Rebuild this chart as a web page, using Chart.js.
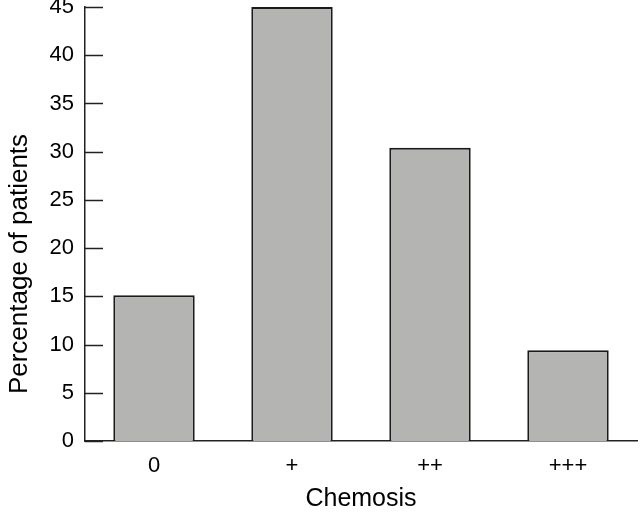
<!DOCTYPE html>
<html>
<head>
<meta charset="utf-8">
<script src="https://cdn.jsdelivr.net/npm/chart.js@4/dist/chart.umd.min.js"></script>
<style>
html,body{margin:0;padding:0;background:#fff;}
#wrap{width:640px;height:512px;}
</style>
</head>
<body>
<div id="wrap"><canvas id="c" width="640" height="512"></canvas></div>
<script>
const categories = ['0', '+', '++', '+++'];
const percentages = [15.1, 45.0, 30.4, 9.4];
const yTicks = [0, 5, 10, 15, 20, 25, 30, 35, 40, 45];
const xTitle = 'Chemosis';
const yTitle = 'Percentage of patients';

const extras = {
  id: 'extras',
  afterDraw(chart) {
    const y = chart.scales.y;
    const ctx = chart.ctx;
    const left = chart.chartArea.left;
    ctx.save();
    ctx.strokeStyle = '#222';
    ctx.lineWidth = 1.5;
    yTicks.forEach(v => {
      const py = Math.round(y.getPixelForValue(v)) + 0.5;
      ctx.beginPath();
      ctx.moveTo(left, py);
      ctx.lineTo(left + 18, py);
      ctx.stroke();
    });
    // y axis title
    ctx.translate(27, 264);
    ctx.rotate(-Math.PI / 2);
    ctx.fillStyle = '#000';
    ctx.font = '26px "Liberation Sans"';
    ctx.textAlign = 'center';
    ctx.textBaseline = 'alphabetic';
    ctx.fillText(yTitle, 0, 0);
    ctx.restore();
  }
};

new Chart(document.getElementById('c'), {
  type: 'bar',
  data: {
    labels: categories,
    datasets: [{
      data: percentages,
      backgroundColor: '#b4b5b3',
      borderColor: '#1a1a1a',
      borderWidth: 2,
      barPercentage: 0.59,
      categoryPercentage: 1.0
    }]
  },
  options: {
    responsive: false,
    animation: false,
    layout: { padding: { top: 7, right: 3, left: 0, bottom: 0 } },
    plugins: { legend: { display: false }, tooltip: { enabled: false } },
    scales: {
      x: {
        grid: { display: false, drawTicks: false },
        border: { display: true, color: '#222', width: 1.5 },
        ticks: { color: '#000', font: { family: 'Liberation Sans', size: 22 }, padding: 12 },
        title: { display: true, text: xTitle, color: '#000', font: { family: 'Liberation Sans', size: 25, lineHeight: 1 }, padding: { top: 0, bottom: 0 } },
        afterFit(s) { s.height = 71; s.paddingLeft = 0; s.paddingRight = 0; }
      },
      y: {
        min: 0, max: 45,
        grid: { display: false, drawTicks: false },
        border: { display: true, color: '#222', width: 1.5 },
        ticks: { stepSize: 5, color: '#000', font: { family: 'Liberation Sans', size: 22 }, padding: 11 },
        title: { display: false },
        afterFit(s) { s.width = 85; s.paddingTop = 0; s.paddingBottom = 0; }
      }
    }
  },
  plugins: [extras]
});
</script>
</body>
</html>
